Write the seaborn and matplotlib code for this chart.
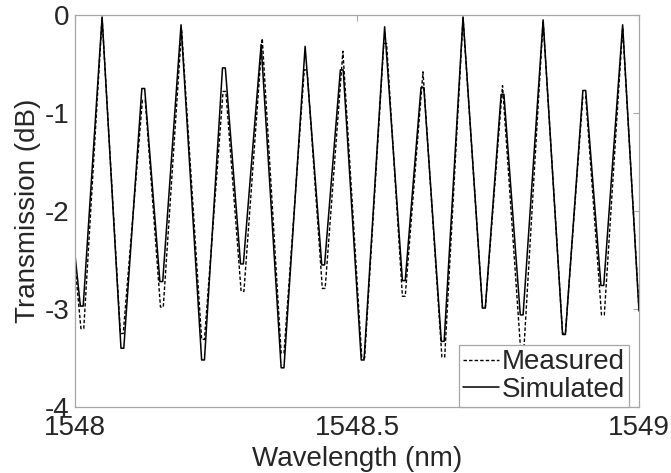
#!/usr/bin/env python3
"""Transmission spectrum: measured vs simulated (1548-1549 nm)."""

import pandas as pd
import matplotlib
matplotlib.use("Agg")
import matplotlib.pyplot as plt
import seaborn as sns

# Points (extrema, with the short flats seen at
# troughs and at the lower peaks), wavelength in nm
wl_simulated = [
    1548.0000, 1548.0095, 1548.0145, 1548.0480, 1548.0815, 1548.0865,
    1548.1185, 1548.1235, 1548.1505, 1548.1555, 1548.1880, 1548.2245,
    1548.2295, 1548.2615, 1548.2665, 1548.2935, 1548.2985, 1548.3300,
    1548.3655, 1548.3705, 1548.4080, 1548.4375, 1548.4425, 1548.4705,
    1548.4755, 1548.5075, 1548.5125, 1548.5490, 1548.5805, 1548.5855,
    1548.6135, 1548.6185, 1548.6495, 1548.6545, 1548.6880, 1548.7225,
    1548.7275, 1548.7555, 1548.7605, 1548.7895, 1548.7945, 1548.8300,
    1548.8645, 1548.8695, 1548.9005, 1548.9055, 1548.9325, 1548.9375,
    1548.9710, 1549.0000,
]
tx_simulated = [
    -2.45, -2.97, -2.97, -0.02, -3.40, -3.40,
    -0.75, -0.75, -2.72, -2.72, -0.10, -3.52,
    -3.52, -0.54, -0.54, -2.54, -2.54, -0.30,
    -3.60, -3.60, -0.32, -2.55, -2.55, -0.56,
    -0.56, -3.52, -3.52, -0.12, -2.71, -2.71,
    -0.74, -0.74, -3.33, -3.33, -0.02, -2.99,
    -2.99, -0.81, -0.81, -3.06, -3.06, -0.05,
    -3.26, -3.26, -0.77, -0.77, -2.76, -2.76,
    -0.10, -3.02,
]

wl_measured = [
    1548.0000, 1548.0105, 1548.0155, 1548.0480, 1548.0805, 1548.0855,
    1548.1195, 1548.1245, 1548.1515, 1548.1565, 1548.1890, 1548.2245,
    1548.2295, 1548.2625, 1548.2675, 1548.2945, 1548.2995, 1548.3320,
    1548.3655, 1548.3705, 1548.4065, 1548.4115, 1548.4385, 1548.4435,
    1548.4750, 1548.5085, 1548.5135, 1548.5475, 1548.5525, 1548.5805,
    1548.5855, 1548.6170, 1548.6505, 1548.6555, 1548.6880, 1548.7225,
    1548.7275, 1548.7580, 1548.7905, 1548.7955, 1548.8300, 1548.8645,
    1548.8695, 1548.9005, 1548.9055, 1548.9335, 1548.9385, 1548.9710,
    1549.0000,
]
tx_measured = [
    -2.55, -3.20, -3.20, -0.03, -3.25, -3.25,
    -0.87, -0.87, -2.98, -2.98, -0.15, -3.31,
    -3.31, -0.78, -0.78, -2.82, -2.82, -0.24,
    -3.45, -3.45, -0.56, -0.56, -2.79, -2.79,
    -0.37, -3.50, -3.50, -0.29, -0.29, -2.87,
    -2.87, -0.58, -3.49, -3.49, -0.03, -2.99,
    -2.99, -0.72, -3.45, -3.45, -0.06, -3.25,
    -3.25, -0.83, -0.83, -3.06, -3.06, -0.13,
    -3.00,
]

x_ticks = [1548, 1548.5, 1549]
x_ticklabels = ["1548", "1548.5", "1549"]
y_ticks = [0, -1, -2, -3, -4]

sns.set_style("white")
plt.rcParams["font.family"] = ["Liberation Sans", "DejaVu Sans"]
plt.rcParams["axes.unicode_minus"] = False

GREY = "#a6a6a6"

fig, ax = plt.subplots(figsize=(6.71, 4.73), dpi=100)
fig.subplots_adjust(left=0.1118, right=0.9523, top=0.9683, bottom=0.1395)

measured = pd.DataFrame({"wl": wl_measured, "tx": tx_measured})
simulated = pd.DataFrame({"wl": wl_simulated, "tx": tx_simulated})

sns.lineplot(data=measured, x="wl", y="tx", color="black", linewidth=1.0,
             linestyle=(0, (2.5, 1.5)), label="Measured", ax=ax)
sns.lineplot(data=simulated, x="wl", y="tx", color="black", linewidth=1.1,
             label="Simulated", ax=ax)

ax.set_xlim(1548, 1549)
ax.set_ylim(-4, 0)
ax.set_xticks(x_ticks)
ax.set_xticklabels(x_ticklabels)
ax.set_yticks(y_ticks)
ax.set_yticklabels([str(v) for v in y_ticks])

ax.tick_params(axis="both", direction="in", length=4, width=0.8, color=GREY,
               labelsize=20, top=True, right=True, pad=4)
ax.tick_params(axis="x", pad=6)
for sp in ax.spines.values():
    sp.set_visible(True)
    sp.set_color(GREY)
    sp.set_linewidth(0.9)

ax.set_xlabel("Wavelength (nm)", fontsize=20, labelpad=3)
ax.set_ylabel("Transmission (dB)", fontsize=20, labelpad=3)

leg = ax.legend(loc="lower right", bbox_to_anchor=(1 - 10 / 564, 0),
                fontsize=20, frameon=True, fancybox=False, framealpha=1,
                edgecolor=GREY, borderaxespad=0, borderpad=0.15,
                labelspacing=0.05, handlelength=1.3, handletextpad=0.1)
leg.get_frame().set_linewidth(0.9)

fig.savefig("out.png", dpi=100, facecolor="white")
plt.close(fig)
